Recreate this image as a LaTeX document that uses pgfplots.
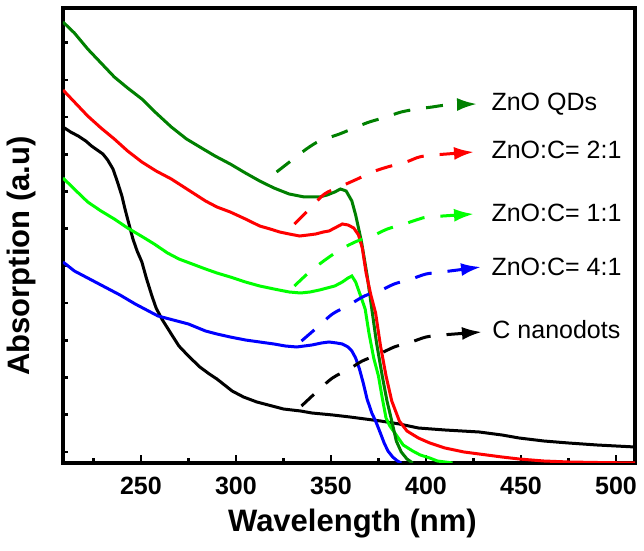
\documentclass[border=0pt]{standalone}
\usepackage{pgfplots}
\pgfplotsset{compat=1.18}
\usepackage{fontspec}
\setmainfont{Liberation Sans}
\usetikzlibrary{arrows.meta}
\definecolor{dkgreen}{RGB}{0,128,0}
\definecolor{brgreen}{RGB}{0,255,0}
\begin{document}
\begin{tikzpicture}
\useasboundingbox (0,0) rectangle (322pt,275.5pt);
\begin{axis}[
  at={(31.5pt,44pt)}, anchor=south west,
  scale only axis, width=286pt, height=227.5pt,
  xmin=209, xmax=510, ymin=0, ymax=455,
  clip mode=individual,
  axis line style={line width=1.6pt},
  xtick={250,300,350,400,450,500},
  minor xtick={225,275,325,375,425,475},
  ytick={-100},
  minor ytick={11,48.2,85.4,122.6,159.8,197,234.2,271.4,308.6,345.8,383,420.2},
  xtick pos=bottom, ytick pos=left,
  tick align=inside, major tick length=4pt, minor tick length=2.5pt,
  every tick/.style={black, line width=1.3pt},
  /pgf/number format/assume math mode=true,
  xticklabel style={font=\bfseries\fontsize{12.5}{15}\selectfont, anchor=base, yshift=-16pt},
  yticklabels={},
  xlabel={Wavelength (nm)},
  xlabel style={at={(axis description cs:0.506,-0.1495)}, anchor=base, inner sep=0pt, font=\bfseries\fontsize{15.5}{18}\selectfont},
  ylabel={Absorption (a.u)},
  ylabel style={at={(axis description cs:-0.0577,0.455)}, anchor=base, inner sep=0pt, font=\bfseries\fontsize{15.5}{18}\selectfont},
  every axis plot/.append style={line width=1.5pt},
]
% C nanodots
\addplot[black] coordinates {
(209,336) (213,331) (217,327) (221,322) (224,317) (227,313) (230,309) (232.5,303) (235.3,294) (237.5,282) (240,267) (241.5,255) (243,244) (245.8,224) (248,212) (250.5,201) (253,184) (255.8,167) (258,155) (261,144) (264,135) (266.3,128) (270,117) (275,107) (281,96) (286,89) (290,84) (294,78) (298,72) (304,66) (311,61) (317,58) (325,54) (334,52) (340,50) (351,48) (360,46) (368,44) (376,42) (386,39) (396,35) (410,33) (428,31) (440,28) (449,25) (462,22) (475,20) (490,18) (510,16)
};
% ZnO:C = 4:1
\addplot[blue] coordinates {
(209,201) (215,192) (223,184) (231,176) (239,168) (247,159) (253,153) (259,147) (267,143) (275,139) (284,132) (290,129) (297,126) (305,123) (312.5,121) (320,119) (326,117) (332,116) (336,117) (340,118) (345,120) (349,121) (353,120) (356,119) (359,116) (361,112) (363,105) (365,94) (367,80) (369,64) (371.5,50) (373.5,42) (376,30) (378,20) (380,12) (382.5,6) (385,2) (387,0)
};
% ZnO:C = 1:1
\addplot[brgreen] coordinates {
(209,285) (216,272) (222,261) (229,252) (236,244) (243,235) (251,226) (257,219) (264,210) (270,204) (277,199) (284,194) (290,190) (297,186) (305,181) (312.5,177) (320,174) (328,171) (334,170) (339,171) (344,173) (348,175) (352,177) (356,181) (359,185) (361,187) (363,181) (366,165) (368,154) (370,130) (372.5,105) (375,87) (377,65) (379,45) (381,37) (384,29) (388,18) (393,12) (397,8) (402,5) (406,2) (414,0)
};
% ZnO QDs
\addplot[dkgreen] coordinates {
(209,441) (215,430) (222,414) (229,400) (236,386) (243,375) (250.5,364) (258,350) (266,336) (274,324) (281,316) (289,307) (297,299) (305,290) (312.5,282) (320,275) (328,269) (336,266) (344,266) (348,268) (352,271) (355,274) (358,272) (361,262) (363,248) (366,222) (369,188) (371.5,154) (374,120) (377,87) (379.5,62) (382,42) (384.4,22) (387,11) (390,4) (393,0)
};
% ZnO:C = 2:1
\addplot[red] coordinates {
(209,373) (216,359) (222,347) (229,335) (236,324) (243,312) (250.5,301) (258,292) (266,284) (275,273) (284,262) (290,256) (297,251) (305,244) (312.5,237) (318,234) (323,231) (328,229) (333.5,227) (338,228) (342,229) (346,231) (349,232) (352,235) (356,239) (359,238) (362,235) (364.5,228) (366.5,215) (368.5,190) (371,168) (373.5,150) (376,118) (379,87) (382,62) (386,42) (390,32) (396,25) (402,20) (410,15) (420,11) (428,9) (440,6) (449,4) (462,2) (475,1) (490,0.5) (510,0)
};
% annotation arrows
\tikzset{annarrow/.style={line width=1.5pt, dash pattern=on 8.5pt off 8pt, -{Latex[length=10pt,width=6.5pt]}}}
\draw[annarrow, dkgreen] plot[smooth] coordinates {(321.4,291) (328.2,301) (337.1,314) (344,322) (354.5,329) (363.4,336) (370.2,341) (379.1,346) (387,351) (395.4,354) (403.3,356) (411.2,358) (426.9,359)};
\draw[annarrow, red] plot[smooth] coordinates {(330.8,239) (338.7,254) (346.6,269) (354.5,276) (363.9,284) (371.8,291) (379.7,296) (389.6,301) (396.5,306) (404.3,308) (425.3,311)};
\draw[annarrow, brgreen] plot[smooth] coordinates {(330.8,177) (338.7,191) (347.6,204) (355.5,214) (363.9,222) (371.8,227) (379.7,234) (388.6,239) (396.5,244) (401.7,246) (425.3,249)};
\draw[annarrow, blue] plot[smooth] coordinates {(334.5,122) (342.4,135) (350.8,149) (358.7,157) (367.6,167) (375.5,172) (383.3,179) (392.3,184) (400.1,189) (408.5,191) (429,196)};
\draw[annarrow, black] plot[smooth] coordinates {(334.5,57) (342.4,71) (350.8,85) (359.7,94) (366.5,102) (375.5,109) (383.3,116) (392.3,121) (400.1,126) (408.5,128) (429.5,131)};
\begin{scope}[every node/.style={anchor=base west, inner sep=0pt, font=\fontsize{12.5}{15}\selectfont}]
\node at (axis cs:434.3,352) {ZnO QDs};
\node at (axis cs:434.3,304) {ZnO:C= 2:1};
\node at (axis cs:434.3,241) {ZnO:C= 1:1};
\node at (axis cs:434.3,187) {ZnO:C= 4:1};
\node at (axis cs:434.8,124) {C nanodots};
\end{scope}
\end{axis}
\end{tikzpicture}
\end{document}
